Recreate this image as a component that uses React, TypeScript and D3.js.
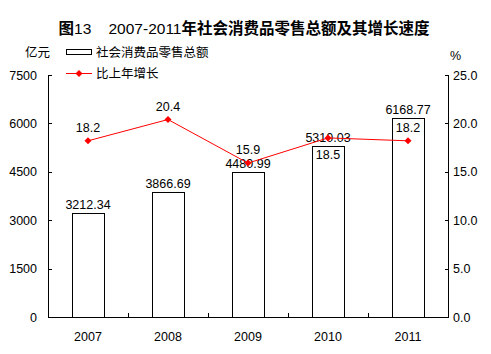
import React from "react";
import * as d3 from "d3";

const years = ["2007", "2008", "2009", "2010", "2011"];
const sales = [3212.34, 3866.69, 4480.99, 5310.03, 6168.77];
const growth = [18.2, 20.4, 15.9, 18.5, 18.2];
const leftTicks = [0, 1500, 3000, 4500, 6000, 7500];
const rightTicks = [0, 5, 10, 15, 20, 25];
const growthLabelBelow = [false, false, false, true, false];

const W = 491, H = 354;
const M = { left: 48, right: 448, top: 75, bottom: 317 };
const FONT = "'Liberation Sans', Arial, sans-serif";
const CJK = "'Noto Sans CJK SC', sans-serif";

export default function App() {
  const x = d3.scaleBand<string>().domain(years).range([M.left, M.right]).paddingInner(0.6).paddingOuter(0.3);
  const yL = d3.scaleLinear().domain([0, 7500]).range([M.bottom, M.top]);
  const yR = d3.scaleLinear().domain([0, 25]).range([M.bottom, M.top]);
  const step = (M.right - M.left) / years.length;
  const cx = (i: number) => M.left + step * (i + 0.5);
  const bw = x.bandwidth();
  const line = d3.line<number>().x((_, i) => cx(i)).y((d) => yR(d));
  const diamond = (px: number, py: number, r = 3.5) =>
    `M${px},${py - r}L${px + r},${py}L${px},${py + r}L${px - r},${py}Z`;

  return (
    <svg width={W} height={H} style={{ position: "absolute", left: 0, top: 0, background: "#fff" }}>
      <text x={244} y={34} textAnchor="middle" fontSize={15.5} fill="#000">
        <tspan fontFamily={CJK} fontWeight="bold">图</tspan>
        <tspan fontFamily={FONT}>13{"\u00a0\u00a0\u00a0\u00a0"}2007-2011</tspan>
        <tspan fontFamily={CJK} fontWeight="bold">年社会消费品零售总额及其增长速度</tspan>
      </text>
      <text x={25} y={57} fontFamily={CJK} fontSize={12.5}>亿元</text>
      <text x={450} y={60} fontFamily={FONT} fontSize={12.5}>%</text>

      {/* legend */}
      <rect x={66.5} y={49.5} width={25} height={5} fill="#fff" stroke="#000" />
      <text x={96} y={57} fontFamily={CJK} fontSize={12.5}>社会消费品零售总额</text>
      <line x1={66} x2={92} y1={73.5} y2={73.5} stroke="#ff0000" />
      <path d={diamond(79, 73.5)} fill="#ff0000" />
      <text x={96} y={78} fontFamily={CJK} fontSize={12.5}>比上年增长</text>

      {/* axes */}
      <line x1={M.left + 0.5} x2={M.left + 0.5} y1={M.top} y2={M.bottom} stroke="#000" />
      <line x1={M.right + 0.5} x2={M.right + 0.5} y1={M.top} y2={M.bottom} stroke="#000" />
      <line x1={M.left} x2={M.right + 1} y1={M.bottom + 0.5} y2={M.bottom + 0.5} stroke="#000" />
      {leftTicks.map((t) => (
        <g key={"l" + t}>
          <line x1={M.left} x2={M.left + 4} y1={Math.round(yL(t)) + 0.5} y2={Math.round(yL(t)) + 0.5} stroke="#000" />
          <text x={37} y={yL(t) + 4.5} textAnchor="end" fontFamily={FONT} fontSize={12.5}>{t}</text>
        </g>
      ))}
      {rightTicks.map((t) => (
        <g key={"r" + t}>
          <line x1={M.right - 3} x2={M.right + 1} y1={Math.round(yR(t)) + 0.5} y2={Math.round(yR(t)) + 0.5} stroke="#000" />
          <text x={453} y={yR(t) + 4.5} fontFamily={FONT} fontSize={12.5}>{t.toFixed(1)}</text>
        </g>
      ))}
      {years.map((yv, i) => (
        <g key={yv}>
          {i > 0 && (
            <line x1={M.left + step * i + 0.5} x2={M.left + step * i + 0.5} y1={M.bottom} y2={M.bottom - 4} stroke="#000" />
          )}
          <text x={cx(i)} y={341} textAnchor="middle" fontFamily={FONT} fontSize={12.5}>{yv}</text>
        </g>
      ))}

      {/* bars */}
      {sales.map((v, i) => (
        <g key={"b" + i}>
          <rect x={Math.round(cx(i) - bw / 2) + 0.5} y={Math.round(yL(v)) + 0.5} width={Math.round(bw)} height={M.bottom - Math.round(yL(v))} fill="#fff" stroke="#000" />
          <text x={cx(i)} y={yL(v) - 4} textAnchor="middle" fontFamily={FONT} fontSize={12.5}>{v.toFixed(2)}</text>
        </g>
      ))}

      {/* growth line */}
      <path d={line(growth) || ""} fill="none" stroke="#ff0000" strokeWidth={1} />
      {growth.map((g, i) => (
        <g key={"g" + i}>
          <path d={diamond(cx(i), yR(g))} fill="#ff0000" />
          <text x={cx(i)} y={growthLabelBelow[i] ? yR(g) + 21 : yR(g) - 9} textAnchor="middle" fontFamily={FONT} fontSize={12.5}>{g.toFixed(1)}</text>
        </g>
      ))}
    </svg>
  );
}
